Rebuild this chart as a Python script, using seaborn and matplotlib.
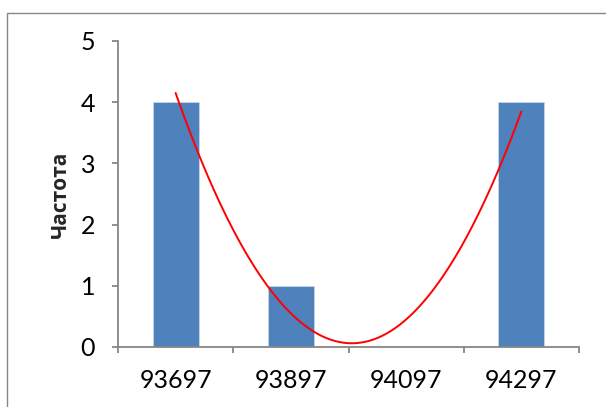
import matplotlib
matplotlib.use('Agg')
import matplotlib.pyplot as plt
import seaborn as sns
import numpy as np
import pandas as pd
from matplotlib.patches import Rectangle

categories = ['93697', '93897', '94097', '94297']
frequencies = [4, 1, 0, 4]
y_ticks = [0, 1, 2, 3, 4, 5]
y_label = 'Частота'

sns.set_style('white')
plt.rcParams['font.family'] = ['Lato', 'DejaVu Sans']

W, H = 606, 407
fig = plt.figure(figsize=(W / 100, H / 100), dpi=100)
ax = fig.add_axes([118 / W, 1 - 347 / H, 461 / W, 306 / H])

df = pd.DataFrame({'bin': categories, 'freq': frequencies})
sns.barplot(data=df, x='bin', y='freq', color='#4F81BD', saturation=1,
            width=0.4, ax=ax, edgecolor='#C5D5EA', linewidth=0.6)

pos = np.arange(len(categories))
sns.regplot(x=pos, y=np.array(frequencies, dtype=float), order=2, ci=None,
            scatter=False, truncate=True, color='#FF0000',
            line_kws={'linewidth': 1.4}, ax=ax)

grey = '#868686'
ax.set_xlim(-0.5, len(categories) - 0.5)
ax.set_ylim(0, 5)
ax.set_yticks(y_ticks)
ax.set_yticklabels([str(t) for t in y_ticks])
ax.set_xticks(pos)
ax.set_xticklabels(categories)
ax.set_xticks(np.arange(len(categories) + 1) - 0.5, minor=True)

for s in ['top', 'right']:
    ax.spines[s].set_visible(False)
for s in ['left', 'bottom']:
    ax.spines[s].set_color(grey)
    ax.spines[s].set_linewidth(1.3)

ax.tick_params(axis='x', which='major', length=0, pad=16, labelsize=18, colors='black')
ax.tick_params(axis='x', which='minor', length=4.5, width=1.3, color=grey, direction='out', bottom=True)
ax.tick_params(axis='y', which='major', length=4.5, width=1.3, color=grey, direction='out',
               pad=12, labelsize=18, labelcolor='black', left=True)
ax.grid(False)

ax.set_xlabel('')
ax.set_ylabel(y_label, fontsize=15, fontweight='bold', family=['Open Sans', 'DejaVu Sans'])
ax.yaxis.set_label_coords(-0.102, 0.5)

border = Rectangle((7 / W, -0.1), 1.2, (1 - 13 / H) + 0.1, transform=fig.transFigure,
                   fill=False, edgecolor=grey, linewidth=1.0, clip_on=False)
fig.add_artist(border)

fig.savefig('out.png', dpi=100)
